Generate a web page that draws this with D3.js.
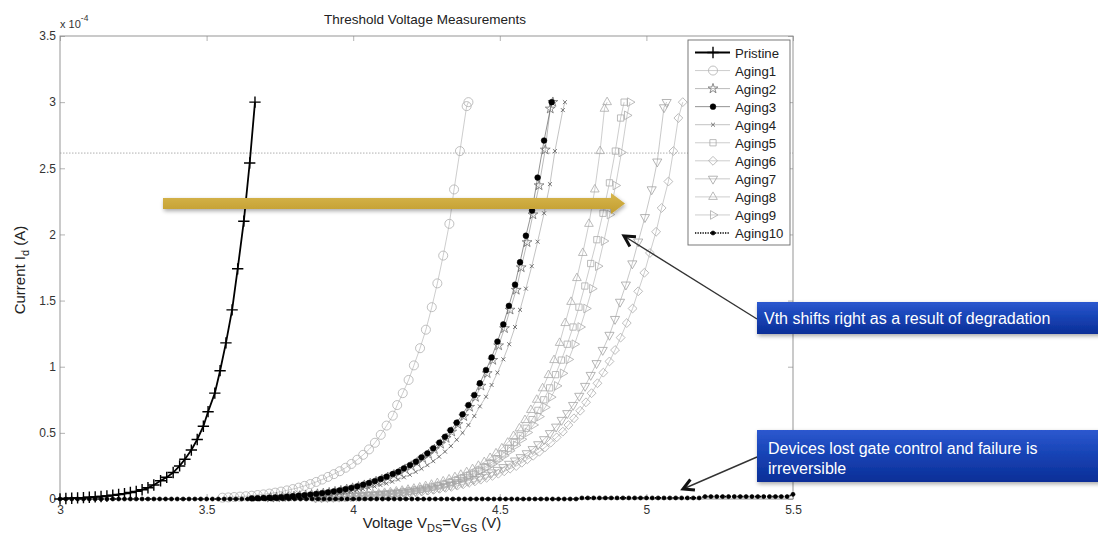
<!DOCTYPE html>
<html>
<head>
<meta charset="utf-8">
<script src="https://cdn.jsdelivr.net/npm/d3@7"></script>
<style>
  body { margin: 0; background: #fff; }
  svg { display: block; font-family: "Liberation Sans", Arial, Helvetica, sans-serif; }
</style>
</head>
<body>
<svg id="chart" width="1098" height="539"></svg>
<script>
// ---- Measured sweeps: [V_DS = V_GS (V), I_d (x 1e-4 A)] ----
const pristine = [[3.000,0.000],[3.020,0.004],[3.040,0.006],[3.060,0.008],[3.080,0.010],[3.100,0.013],[3.120,0.016],[3.140,0.019],[3.160,0.023],[3.180,0.028],[3.200,0.034],[3.220,0.041],[3.240,0.049],[3.260,0.058],[3.280,0.070],[3.300,0.085],[3.320,0.106],[3.343,0.138],[3.364,0.164],[3.386,0.200],[3.408,0.250],[3.426,0.300],[3.448,0.370],[3.468,0.450],[3.489,0.550],[3.505,0.660],[3.528,0.800],[3.546,0.970],[3.566,1.180],[3.587,1.430],[3.606,1.740],[3.627,2.100],[3.647,2.540],[3.665,3.000]];

const aging1 = [[3.554,0.010],[3.574,0.012],[3.594,0.015],[3.614,0.018],[3.634,0.021],[3.654,0.025],[3.674,0.030],[3.694,0.035],[3.714,0.041],[3.734,0.048],[3.754,0.056],[3.774,0.065],[3.794,0.075],[3.814,0.086],[3.834,0.099],[3.854,0.113],[3.874,0.129],[3.894,0.147],[3.914,0.167],[3.934,0.188],[3.954,0.210],[3.974,0.236],[3.994,0.265],[4.014,0.297],[4.034,0.334],[4.054,0.375],[4.074,0.425],[4.094,0.485],[4.114,0.555],[4.135,0.630],[4.150,0.710],[4.169,0.800],[4.189,0.900],[4.207,1.010],[4.228,1.140],[4.248,1.280],[4.268,1.450],[4.287,1.630],[4.307,1.840],[4.328,2.080],[4.344,2.340],[4.364,2.630],[4.387,2.970],[4.393,3.000]];

const aging2 = [[3.718,0.010],[3.738,0.012],[3.758,0.014],[3.778,0.017],[3.798,0.020],[3.818,0.024],[3.838,0.028],[3.858,0.033],[3.878,0.038],[3.898,0.043],[3.918,0.049],[3.938,0.056],[3.958,0.064],[3.978,0.073],[3.998,0.083],[4.018,0.093],[4.038,0.105],[4.058,0.118],[4.078,0.133],[4.098,0.148],[4.118,0.165],[4.139,0.184],[4.158,0.202],[4.177,0.226],[4.198,0.250],[4.218,0.276],[4.237,0.307],[4.257,0.338],[4.277,0.375],[4.298,0.416],[4.317,0.460],[4.336,0.508],[4.357,0.565],[4.377,0.625],[4.397,0.695],[4.417,0.770],[4.436,0.855],[4.457,0.950],[4.476,1.050],[4.496,1.160],[4.516,1.290],[4.535,1.430],[4.556,1.580],[4.573,1.750],[4.593,1.940],[4.613,2.150],[4.634,2.370],[4.655,2.640],[4.672,2.950],[4.681,3.000]];

const aging3 = [[3.654,0.005],[3.674,0.006],[3.694,0.008],[3.714,0.010],[3.734,0.012],[3.754,0.015],[3.774,0.018],[3.794,0.021],[3.814,0.025],[3.834,0.029],[3.854,0.034],[3.874,0.039],[3.894,0.045],[3.914,0.051],[3.934,0.058],[3.954,0.066],[3.974,0.075],[3.994,0.085],[4.014,0.096],[4.034,0.108],[4.054,0.121],[4.074,0.136],[4.094,0.152],[4.114,0.169],[4.135,0.189],[4.154,0.206],[4.173,0.232],[4.194,0.257],[4.214,0.282],[4.233,0.315],[4.253,0.345],[4.273,0.383],[4.294,0.426],[4.313,0.470],[4.332,0.520],[4.353,0.577],[4.373,0.640],[4.393,0.710],[4.413,0.786],[4.432,0.875],[4.453,0.975],[4.472,1.070],[4.492,1.190],[4.512,1.320],[4.531,1.460],[4.552,1.620],[4.569,1.790],[4.589,1.990],[4.610,2.180],[4.629,2.430],[4.651,2.710],[4.677,3.000]];

const aging4 = [[3.713,0.009],[3.733,0.011],[3.753,0.013],[3.773,0.015],[3.793,0.017],[3.813,0.020],[3.833,0.023],[3.853,0.026],[3.873,0.029],[3.893,0.033],[3.913,0.037],[3.933,0.042],[3.953,0.047],[3.973,0.053],[3.993,0.060],[4.013,0.067],[4.033,0.075],[4.053,0.084],[4.073,0.094],[4.093,0.105],[4.113,0.117],[4.133,0.131],[4.153,0.147],[4.173,0.164],[4.193,0.183],[4.213,0.205],[4.233,0.229],[4.253,0.256],[4.273,0.286],[4.293,0.320],[4.313,0.358],[4.333,0.400],[4.353,0.448],[4.373,0.500],[4.393,0.559],[4.413,0.627],[4.432,0.700],[4.453,0.773],[4.472,0.862],[4.492,0.955],[4.512,1.056],[4.532,1.170],[4.552,1.300],[4.569,1.430],[4.589,1.590],[4.609,1.760],[4.629,1.945],[4.651,2.160],[4.671,2.380],[4.688,2.630],[4.715,2.940],[4.722,3.000]];

const aging5 = [[3.890,0.010],[3.910,0.011],[3.930,0.013],[3.950,0.015],[3.970,0.017],[3.990,0.019],[4.010,0.021],[4.030,0.024],[4.050,0.027],[4.070,0.030],[4.090,0.034],[4.110,0.038],[4.130,0.042],[4.150,0.047],[4.170,0.053],[4.190,0.059],[4.210,0.066],[4.230,0.073],[4.250,0.082],[4.270,0.091],[4.290,0.101],[4.310,0.113],[4.330,0.126],[4.350,0.141],[4.370,0.157],[4.390,0.175],[4.410,0.195],[4.430,0.218],[4.450,0.244],[4.470,0.273],[4.490,0.305],[4.510,0.341],[4.530,0.382],[4.550,0.427],[4.570,0.478],[4.590,0.535],[4.610,0.600],[4.630,0.670],[4.650,0.750],[4.670,0.840],[4.690,0.940],[4.710,1.050],[4.730,1.170],[4.750,1.300],[4.770,1.450],[4.790,1.610],[4.810,1.780],[4.831,1.960],[4.852,2.160],[4.874,2.390],[4.894,2.630],[4.912,2.880],[4.924,3.000]];

const aging6 = [[3.895,0.010],[3.915,0.012],[3.935,0.013],[3.955,0.015],[3.975,0.016],[3.995,0.018],[4.015,0.020],[4.035,0.022],[4.055,0.025],[4.075,0.027],[4.095,0.030],[4.115,0.033],[4.135,0.036],[4.155,0.040],[4.175,0.044],[4.195,0.048],[4.215,0.053],[4.235,0.058],[4.255,0.064],[4.275,0.070],[4.295,0.077],[4.315,0.084],[4.335,0.092],[4.355,0.101],[4.375,0.111],[4.395,0.122],[4.415,0.133],[4.435,0.146],[4.455,0.160],[4.475,0.175],[4.495,0.191],[4.515,0.209],[4.535,0.229],[4.556,0.249],[4.575,0.274],[4.594,0.300],[4.614,0.327],[4.635,0.357],[4.654,0.390],[4.674,0.426],[4.694,0.466],[4.715,0.509],[4.734,0.559],[4.753,0.610],[4.774,0.667],[4.794,0.731],[4.813,0.800],[4.833,0.875],[4.853,0.955],[4.874,1.040],[4.893,1.126],[4.912,1.220],[4.933,1.330],[4.953,1.440],[4.972,1.570],[4.993,1.710],[5.012,1.860],[5.033,2.020],[5.052,2.200],[5.075,2.400],[5.092,2.630],[5.109,2.880],[5.124,3.000]];

const aging7 = [[3.872,0.010],[3.892,0.011],[3.912,0.013],[3.932,0.014],[3.952,0.016],[3.972,0.018],[3.992,0.020],[4.012,0.022],[4.032,0.024],[4.052,0.027],[4.072,0.030],[4.092,0.033],[4.112,0.036],[4.132,0.040],[4.152,0.044],[4.172,0.048],[4.192,0.053],[4.212,0.058],[4.232,0.064],[4.252,0.071],[4.272,0.078],[4.292,0.086],[4.312,0.094],[4.332,0.104],[4.352,0.114],[4.372,0.125],[4.392,0.138],[4.412,0.151],[4.432,0.166],[4.452,0.182],[4.472,0.200],[4.492,0.219],[4.512,0.240],[4.532,0.265],[4.552,0.290],[4.571,0.315],[4.592,0.345],[4.612,0.376],[4.631,0.413],[4.651,0.451],[4.671,0.497],[4.692,0.546],[4.711,0.597],[4.730,0.648],[4.750,0.710],[4.771,0.779],[4.791,0.854],[4.810,0.937],[4.830,1.026],[4.851,1.126],[4.874,1.240],[4.893,1.360],[4.910,1.490],[4.930,1.620],[4.952,1.780],[4.972,1.945],[4.995,2.130],[5.018,2.340],[5.037,2.550],[5.060,2.960],[5.069,3.000]];

const aging8 = [[3.847,0.010],[3.867,0.012],[3.887,0.013],[3.907,0.015],[3.927,0.017],[3.947,0.019],[3.967,0.021],[3.987,0.024],[4.007,0.027],[4.027,0.030],[4.047,0.033],[4.067,0.037],[4.087,0.041],[4.107,0.046],[4.127,0.051],[4.147,0.057],[4.167,0.063],[4.187,0.070],[4.207,0.078],[4.227,0.087],[4.247,0.097],[4.267,0.108],[4.287,0.120],[4.307,0.133],[4.327,0.148],[4.347,0.165],[4.367,0.183],[4.387,0.203],[4.407,0.226],[4.427,0.251],[4.447,0.279],[4.467,0.310],[4.487,0.345],[4.507,0.383],[4.527,0.426],[4.547,0.476],[4.567,0.534],[4.586,0.597],[4.606,0.673],[4.626,0.750],[4.646,0.837],[4.666,0.937],[4.685,1.050],[4.704,1.180],[4.723,1.330],[4.743,1.490],[4.763,1.670],[4.783,1.860],[4.804,2.080],[4.824,2.340],[4.842,2.630],[4.857,2.950],[4.866,3.000]];

const aging9 = [[3.875,0.010],[3.895,0.011],[3.915,0.012],[3.935,0.014],[3.955,0.016],[3.975,0.018],[3.995,0.020],[4.015,0.022],[4.035,0.025],[4.055,0.028],[4.075,0.031],[4.095,0.034],[4.115,0.038],[4.135,0.043],[4.155,0.048],[4.175,0.053],[4.195,0.059],[4.215,0.066],[4.235,0.073],[4.255,0.082],[4.275,0.091],[4.295,0.101],[4.315,0.112],[4.335,0.125],[4.355,0.139],[4.375,0.155],[4.395,0.173],[4.415,0.192],[4.435,0.214],[4.455,0.238],[4.475,0.265],[4.495,0.295],[4.515,0.328],[4.535,0.365],[4.555,0.406],[4.575,0.452],[4.595,0.503],[4.615,0.560],[4.635,0.623],[4.655,0.693],[4.675,0.770],[4.695,0.855],[4.715,0.950],[4.735,1.055],[4.755,1.170],[4.775,1.300],[4.795,1.440],[4.815,1.590],[4.835,1.760],[4.855,1.950],[4.875,2.150],[4.895,2.370],[4.915,2.620],[4.934,2.900],[4.944,3.000]];

const aging10 = [[3.00,0],[3.02,0],[3.04,0],[3.06,0],[3.08,0],[3.10,0],[3.12,0],[3.14,0],[3.16,0],[3.18,0],
  [3.20,0],[3.22,0],[3.24,0],[3.26,0],[3.28,0],[3.30,0],[3.32,0],[3.34,0],[3.36,0],[3.38,0],
  [3.40,0],[3.42,0],[3.44,0],[3.46,0],[3.48,0],[3.50,0],[3.52,0],[3.54,0],[3.56,0],[3.58,0],
  [3.60,0],[3.62,0],[3.64,0],[3.66,0],[3.68,0],[3.70,0],[3.72,0],[3.74,0],[3.76,0],[3.78,0],
  [3.80,0],[3.82,0],[3.84,0],[3.86,0],[3.88,0],[3.90,0],[3.92,0],[3.94,0],[3.96,0],[3.98,0],
  [4.00,0],[4.02,0],[4.04,0],[4.06,0],[4.08,0],[4.10,0],[4.12,0],[4.14,0],[4.16,0],[4.18,0],
  [4.20,0],[4.22,0],[4.24,0],[4.26,0],[4.28,0],[4.30,0],[4.32,0],[4.34,0],[4.36,0],[4.38,0],
  [4.40,0],[4.42,0],[4.44,0],[4.46,0],[4.48,0],[4.50,0],[4.52,0],[4.54,0],[4.56,0],[4.58,0],
  [4.60,0],[4.62,0],[4.64,0],[4.66,0],[4.68,0],[4.70,0],[4.72,0],[4.74,0],[4.76,0],[4.78,0.008],
  [4.80,0.008],[4.82,0.008],[4.84,0.008],[4.86,0.008],[4.88,0.008],[4.90,0.008],[4.92,0.008],[4.94,0.008],[4.96,0.008],[4.98,0.008],
  [5.00,0.008],[5.02,0.008],[5.04,0.008],[5.06,0.008],[5.08,0.008],[5.10,0.008],[5.12,0.008],[5.14,0.008],[5.16,0.008],[5.18,0.008],
  [5.20,0.018],[5.22,0.018],[5.24,0.018],[5.26,0.018],[5.28,0.018],[5.30,0.018],[5.32,0.018],[5.34,0.018],[5.36,0.018],[5.38,0.018],
  [5.40,0.018],[5.42,0.018],[5.44,0.018],[5.46,0.018],[5.48,0.018],[5.50,0.035]];

const seriesNames = ["Pristine","Aging1","Aging2","Aging3","Aging4","Aging5","Aging6","Aging7","Aging8","Aging9","Aging10"];
const seriesValues = [pristine, aging1, aging2, aging3, aging4, aging5, aging6, aging7, aging8, aging9, aging10];

const xTicks = [3, 3.5, 4, 4.5, 5, 5.5];
const yTicks = [0, 0.5, 1, 1.5, 2, 2.5, 3, 3.5];
const referenceLevel = 2.615;   // dotted reference current (x 1e-4 A)
const titleText = "Threshold Voltage Measurements";
const noteShift = "Vth shifts right as a result of degradation";
const noteFail = ["Devices lost gate control and failure is", "irreversible"];

// ---- Styles per series ----
const styles = {
  Pristine: { line: "#000", lw: 1.8, marker: "plus", size: 44, stroke: "#000", sw: 1.4, fill: "none" },
  Aging1:  { line: "#b8b8b8", lw: 0.7, marker: "circle", size: 64, stroke: "#b0b0b0", sw: 0.8, fill: "none" },
  Aging2:  { line: "#8c8c8c", lw: 0.6, marker: "star", size: 30, stroke: "#6e6e6e", sw: 0.8, fill: "none" },
  Aging3:  { line: "#4a4a4a", lw: 0.6, marker: "circle", size: 26, stroke: "#000", sw: 0.5, fill: "#000" },
  Aging4:  { line: "#9a9a9a", lw: 0.6, marker: "times", size: 12, stroke: "#555", sw: 0.8, fill: "none" },
  Aging5:  { line: "#b8b8b8", lw: 0.7, marker: "square", size: 50, stroke: "#ababab", sw: 0.8, fill: "none" },
  Aging6:  { line: "#b8b8b8", lw: 0.7, marker: "diamond", size: 50, stroke: "#ababab", sw: 0.8, fill: "none" },
  Aging7:  { line: "#b0b0b0", lw: 0.7, marker: "triDown", size: 60, stroke: "#a2a2a2", sw: 0.8, fill: "none" },
  Aging8:  { line: "#b8b8b8", lw: 0.7, marker: "triUp", size: 54, stroke: "#ababab", sw: 0.8, fill: "none" },
  Aging9:  { line: "#b8b8b8", lw: 0.7, marker: "triRight", size: 54, stroke: "#ababab", sw: 0.8, fill: "none" },
  Aging10: { line: "#000", lw: 1.7, dash: "1.3,1.2", marker: "circle", size: 13, stroke: "#000", sw: 0.6, fill: "#000" }
};
const drawOrder = ["Aging1","Aging5","Aging8","Aging9","Aging7","Aging6","Aging4","Aging2","Aging3","Aging10","Pristine"];

// ---- Layout ----
const svg = d3.select("#chart");
const plot = { left: 60, right: 793, top: 36, bottom: 499 };
const x = d3.scaleLinear().domain([3, 5.5]).range([plot.left, plot.right]);
const y = d3.scaleLinear().domain([0, 3.5]).range([plot.bottom, plot.top]);

const defs = svg.append("defs");
const shadow = defs.append("filter").attr("id", "shadow")
  .attr("x", "-10%").attr("y", "-40%").attr("width", "130%").attr("height", "200%");
shadow.append("feGaussianBlur").attr("in", "SourceAlpha").attr("stdDeviation", 2);
shadow.append("feOffset").attr("dx", 1).attr("dy", 2).attr("result", "off");
shadow.append("feComponentTransfer").attr("in", "off").attr("result", "soft")
  .append("feFuncA").attr("type", "linear").attr("slope", 0.35);
const merge = shadow.append("feMerge");
merge.append("feMergeNode").attr("in", "soft");
merge.append("feMergeNode").attr("in", "SourceGraphic");

const blueGrad = defs.append("linearGradient").attr("id", "blueBox")
  .attr("x1", 0).attr("y1", 0).attr("x2", 0).attr("y2", 1);
blueGrad.append("stop").attr("offset", "0%").attr("stop-color", "#2d58cf");
blueGrad.append("stop").attr("offset", "45%").attr("stop-color", "#1744b6");
blueGrad.append("stop").attr("offset", "100%").attr("stop-color", "#0c2e97");

const goldGrad = defs.append("linearGradient").attr("id", "gold")
  .attr("x1", 0).attr("y1", 0).attr("x2", 0).attr("y2", 1);
goldGrad.append("stop").attr("offset", "0%").attr("stop-color", "#d7b64d");
goldGrad.append("stop").attr("offset", "100%").attr("stop-color", "#c29d2f");

// ---- Axes (ticks point inward) ----
const axisColor = "#8a8a8a";
function styleAxis(g) {
  g.select(".domain").remove();
  g.selectAll(".tick line").attr("stroke", "#a0a0a0").attr("stroke-width", 0.8);
  g.selectAll(".tick text").attr("fill", "#333").attr("font-size", 12)
    .attr("font-family", '"Liberation Sans", Arial, sans-serif');
}
svg.append("g").attr("transform", `translate(0,${plot.bottom})`)
  .call(d3.axisBottom(x).tickValues(xTicks).tickSizeInner(-5).tickSizeOuter(0).tickPadding(6).tickFormat(d => d))
  .call(styleAxis);
svg.append("g").attr("transform", `translate(0,${plot.top})`)
  .call(d3.axisTop(x).tickValues(xTicks).tickSizeInner(-5).tickSizeOuter(0).tickFormat(""))
  .call(styleAxis);
svg.append("g").attr("transform", `translate(${plot.left},0)`)
  .call(d3.axisLeft(y).tickValues(yTicks).tickSizeInner(-5).tickSizeOuter(0).tickPadding(4).tickFormat(d => d))
  .call(styleAxis);
svg.append("g").attr("transform", `translate(${plot.right},0)`)
  .call(d3.axisRight(y).tickValues(yTicks).tickSizeInner(-5).tickSizeOuter(0).tickFormat(""))
  .call(styleAxis);

svg.append("rect")
  .attr("x", plot.left).attr("y", plot.top)
  .attr("width", plot.right - plot.left).attr("height", plot.bottom - plot.top)
  .attr("fill", "none").attr("stroke", axisColor).attr("stroke-width", 0.9);

// exponent label
const expo = svg.append("text").attr("x", plot.left).attr("y", 28)
  .attr("font-size", 11).attr("fill", "#333");
expo.append("tspan").text("x 10");
expo.append("tspan").attr("dy", -7).attr("font-size", 8.5).text("-4");

// title
svg.append("text").attr("x", 425).attr("y", 24).attr("text-anchor", "middle")
  .attr("font-size", 13.5).attr("fill", "#222").text(titleText);

// axis labels
const xl = svg.append("text").attr("x", 432).attr("y", 528).attr("text-anchor", "middle")
  .attr("font-size", 15).attr("fill", "#222");
xl.append("tspan").text("Voltage V");
xl.append("tspan").attr("font-size", 11).attr("dy", 4).text("DS");
xl.append("tspan").attr("dy", -4).text("=V");
xl.append("tspan").attr("font-size", 11).attr("dy", 4).text("GS");
xl.append("tspan").attr("dy", -4).text(" (V)");

const yl = svg.append("text").attr("transform", "translate(25,270) rotate(-90)")
  .attr("text-anchor", "middle").attr("font-size", 15).attr("fill", "#222");
yl.append("tspan").text("Current I");
yl.append("tspan").attr("font-size", 11).attr("dy", 4).text("d");
yl.append("tspan").attr("dy", -4).text(" (A)");

// ---- Reference current level ----
svg.append("line")
  .attr("x1", x(3)).attr("x2", x(5.5)).attr("y1", y(referenceLevel)).attr("y2", y(referenceLevel))
  .attr("stroke", "#9a9a9a").attr("stroke-width", 0.8).attr("stroke-dasharray", "1.5,1.5");

// ---- Markers ----
function markerPath(kind, size) {
  switch (kind) {
    case "plus": return d3.symbol(d3.symbolPlus, size)();
    case "circle": return d3.symbol(d3.symbolCircle, size)();
    case "times": return d3.symbol(d3.symbolTimes, size)();
    case "square": return d3.symbol(d3.symbolSquare2, size)();
    case "diamond": return d3.symbol(d3.symbolDiamond2, size)();
    case "star": return d3.symbol(d3.symbolStar, size)();
    default: return d3.symbol(d3.symbolTriangle2, size)();
  }
}
function markerRotation(kind) {
  return kind === "triDown" ? 180 : kind === "triRight" ? 90 : 0;
}

const line = d3.line().x(d => x(d[0])).y(d => y(d[1]));
const curves = svg.append("g");
drawOrder.forEach(name => {
  const data = seriesValues[seriesNames.indexOf(name)];
  const s = styles[name];
  const g = curves.append("g");
  g.append("path").datum(data).attr("d", line)
    .attr("fill", "none").attr("stroke", s.line).attr("stroke-width", s.lw)
    .attr("stroke-dasharray", s.dash || null);
  const p = markerPath(s.marker, s.size);
  const r = markerRotation(s.marker);
  g.selectAll("path.mk").data(data).join("path").attr("class", "mk")
    .attr("d", p)
    .attr("transform", d => `translate(${x(d[0])},${y(d[1])}) rotate(${r})`)
    .attr("fill", s.fill).attr("stroke", s.stroke).attr("stroke-width", s.sw);
});

// ---- Legend ----
const lg = svg.append("g").attr("transform", "translate(688,40)");
lg.append("rect").attr("width", 102).attr("height", 205)
  .attr("fill", "#fff").attr("stroke", "#6a6a6a").attr("stroke-width", 0.9);
seriesNames.forEach((name, i) => {
  const s = styles[name];
  const row = lg.append("g").attr("transform", `translate(0,${12.5 + i * 18.05})`);
  row.append("line").attr("x1", 7).attr("x2", 42).attr("y1", 0).attr("y2", 0)
    .attr("stroke", s.line).attr("stroke-width", s.lw).attr("stroke-dasharray", s.dash || null);
  row.append("path").attr("d", markerPath(s.marker, s.size))
    .attr("transform", `translate(25,0) rotate(${markerRotation(s.marker)})`)
    .attr("fill", s.fill).attr("stroke", s.stroke).attr("stroke-width", s.sw);
  row.append("text").attr("x", 47).attr("y", 5).attr("font-size", 13.2).attr("fill", "#222").text(name);
});

// ---- Shift arrow ----
const arrowY = 203.5;
svg.append("path")
  .attr("d", `M163,${arrowY - 5.5} H611 V${arrowY - 10.5} L625,${arrowY} L611,${arrowY + 10.5} V${arrowY + 5.5} H163 Z`)
  .attr("fill", "url(#gold)").attr("filter", "url(#shadow)");

// ---- Callouts ----
function pointer(from, to) {
  const ang = Math.atan2(to[1] - from[1], to[0] - from[0]);
  svg.append("line").attr("x1", from[0]).attr("y1", from[1]).attr("x2", to[0]).attr("y2", to[1])
    .attr("stroke", "#333").attr("stroke-width", 1.4);
  const len = 12, spread = 0.5;
  const a1 = [to[0] - len * Math.cos(ang - spread), to[1] - len * Math.sin(ang - spread)];
  const a2 = [to[0] - len * Math.cos(ang + spread), to[1] - len * Math.sin(ang + spread)];
  svg.append("path").attr("d", `M${a1[0]},${a1[1]} L${to[0]},${to[1]} L${a2[0]},${a2[1]}`)
    .attr("fill", "none").attr("stroke", "#111").attr("stroke-width", 3)
    .attr("stroke-linejoin", "miter");
}
pointer([757, 319], [624, 236]);
pointer([757, 457], [683, 489]);

function callout(x0, y0, h, lines, tx, ty, lh) {
  svg.append("rect").attr("x", x0).attr("y", y0).attr("width", 1098 - x0 + 4).attr("height", h)
    .attr("fill", "url(#blueBox)").attr("filter", "url(#shadow)");
  lines.forEach((t, i) => {
    svg.append("text").attr("x", tx).attr("y", ty + i * lh)
      .attr("font-size", 16).attr("fill", "#fff").text(t);
  });
}
callout(757, 302, 32, [noteShift], 764, 324, 0);
callout(757, 430, 52, noteFail, 768, 454, 20);
</script>
</body>
</html>
